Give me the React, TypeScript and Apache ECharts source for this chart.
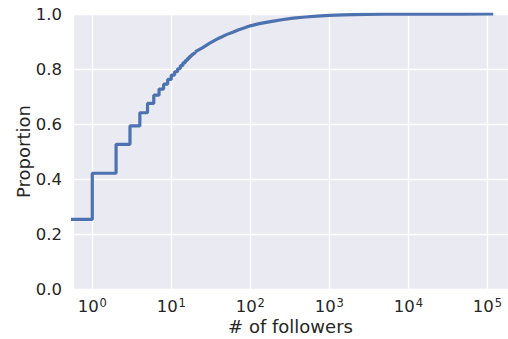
import React, { useEffect, useRef } from "react";
import * as echarts from "echarts";

// ECDF of follower counts (steps at small integer counts)
const stepFollowers = [0, 1, 2, 3, 4, 5, 6, 7, 8, 9, 10, 11, 12, 13, 14, 15, 16, 17, 18, 19, 20];
const stepProportion = [
  0.253, 0.421, 0.526, 0.593, 0.641, 0.675, 0.705, 0.727, 0.745, 0.762, 0.778, 0.79, 0.801,
  0.812, 0.822, 0.831, 0.839, 0.846, 0.852, 0.857, 0.862,
];

// smooth tail of the ECDF
const curveFollowers = [
  20, 25, 30, 35, 40, 50, 60, 70, 85, 100, 130, 180, 250, 350, 500, 700, 1000, 1500, 2000, 3000,
  5000, 10000, 20000, 50000, 119000,
];
const curveProportion = [
  0.862, 0.878, 0.892, 0.903, 0.912, 0.925, 0.934, 0.942, 0.95, 0.957, 0.965, 0.972, 0.979, 0.985,
  0.989, 0.992, 0.995, 0.997, 0.998, 0.9985, 0.9992, 0.9996, 0.9998, 0.9999, 1.0,
];

const yTicks = [0, 0.2, 0.4, 0.6, 0.8, 1.0];

const X_MIN = 0.57;
const X_MAX = 182800;
const ZERO_STAND_IN = 0.1; // 0 followers lies at -inf on a log axis

const FONT = "DejaVu Sans";
const TEXT = "#262626";

export default function App() {
  const ref = useRef<HTMLDivElement>(null);

  useEffect(() => {
    if (!ref.current) return;
    const chart = echarts.init(ref.current, undefined, { renderer: "svg" });
    const stepData = stepFollowers.map((f, i) => [f === 0 ? ZERO_STAND_IN : f, stepProportion[i]]);
    const curveData = curveFollowers.map((f, i) => [f, curveProportion[i]]);
    chart.setOption({
      animation: false,
      backgroundColor: "#ffffff",
      textStyle: { fontFamily: FONT, color: TEXT },
      grid: {
        left: 73,
        top: 14,
        right: 0,
        bottom: 50,
        show: true,
        backgroundColor: "#EAEAF2",
        borderWidth: 0,
        containLabel: false,
        outerBoundsMode: "none",
      },
      xAxis: {
        type: "log",
        logBase: 10,
        min: X_MIN,
        max: X_MAX,
        name: "# of followers",
        nameLocation: "middle",
        nameGap: 27,
        nameMoveOverlap: false,
        nameTextStyle: { fontFamily: FONT, fontSize: 18, lineHeight: 20, color: TEXT },
        axisLine: { show: false },
        axisTick: { show: false },
        splitLine: { show: true, lineStyle: { color: "#ffffff", width: 1.3 } },
        axisLabel: {
          showMinLabel: false,
          showMaxLabel: false,
          margin: 8,
          color: TEXT,
          fontFamily: FONT,
          formatter: (v: number) => {
            const e = Math.round(Math.log10(v));
            return `{b|10}{s|${e}}`;
          },
          rich: {
            b: { fontSize: 16.5, fontFamily: FONT, color: TEXT, lineHeight: 18, verticalAlign: "bottom" },
            s: { fontSize: 11.5, fontFamily: FONT, color: TEXT, lineHeight: 8, verticalAlign: "top", padding: [0, 0, 0, 1] },
          },
        },
      },
      yAxis: {
        type: "value",
        min: 0,
        max: 1,
        interval: 0.2,
        name: "Proportion",
        nameLocation: "middle",
        nameGap: 41,
        nameMoveOverlap: false,
        nameTextStyle: { fontFamily: FONT, fontSize: 18, lineHeight: 18, color: TEXT },
        axisLine: { show: false },
        axisTick: { show: false },
        splitLine: { show: true, lineStyle: { color: "#ffffff", width: 1.3 } },
        axisLabel: {
          margin: 11,
          fontSize: 16.5,
          color: TEXT,
          fontFamily: FONT,
          customValues: yTicks,
          formatter: (v: number) => v.toFixed(1),
        },
      },
      series: [
        {
          type: "line",
          step: "end",
          data: stepData,
          showSymbol: false,
          clip: true,
          lineStyle: { color: "#4C72B0", width: 3.2 },
        },
        {
          type: "line",
          data: curveData,
          showSymbol: false,
          clip: true,
          lineStyle: { color: "#4C72B0", width: 3.2 },
        },
      ],
    });
    return () => chart.dispose();
  }, []);

  return (
    <div
      ref={ref}
      style={{ position: "absolute", left: 0, top: 0, width: 508, height: 339 }}
    />
  );
}
